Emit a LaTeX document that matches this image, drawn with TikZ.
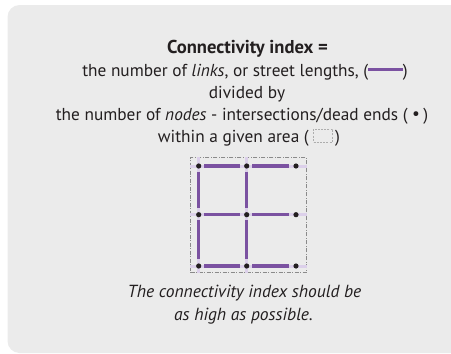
\documentclass[tikz,border=0pt]{standalone}
\usepackage{fontspec}
\setmainfont{PT Sans}
\usetikzlibrary{calc}
\definecolor{bggrey}{HTML}{EBEBEB}
\definecolor{txt}{HTML}{231F20}
\definecolor{linkpurple}{HTML}{7B52A1}
\definecolor{halo}{HTML}{DCD0EA}
\definecolor{dashgrey}{HTML}{8A8A8A}
\tikzset{
  txtline/.style={anchor=base, inner sep=0pt, text=txt, font=\fontsize{17.3}{20}\selectfont},
  dot/.style={circle, fill=txt, inner sep=0pt, minimum size=5.2pt},
  link/.style={draw=linkpurple, line width=3.4pt, shorten <=2.7pt, shorten >=4.1pt},
  street/.style={draw=halo, line width=3pt},
  areabox/.style={draw=dashgrey, line width=0.6pt, dash pattern=on 4pt off 1.5pt on 1pt off 1.5pt, inner sep=0pt},
  minibox/.style={draw=dashgrey!70, line width=0.5pt, dash pattern=on 2pt off 1.2pt, inner sep=0pt},
}
\begin{document}
\begin{tikzpicture}[x=1pt, y=-1pt]
\useasboundingbox (0,0) rectangle (451,354);
\fill[bggrey, rounded corners=12pt] (7.5,5) rectangle (470,353);
% text
\node[txtline, font=\fontsize{18.6}{20}\selectfont\bfseries] (t1) at (247.5,53) {Connectivity index =};
\node[txtline] (t2) at (245,76) {the number of \emph{links}, or street lengths, (\textcolor{linkpurple}{\rule[0.3em]{2em}{3pt}})};
\node[txtline] (t3) at (247,98) {divided by};
\node[txtline] (t4) at (242,120) {the number of \emph{nodes} - intersections/dead ends (\hspace{0.25em}\raisebox{0.05em}{•}\hspace{0.2em})};
\node[minibox, minimum width=19pt, minimum height=13pt] (mini) at (323,135.5) {};
\node[txtline, anchor=base east] (t5) at (309,142) {within a given area (};
\node[txtline, anchor=base west] (t5b) at (335,142) {)};
% grid area
\node[areabox, minimum width=115.6pt, minimum height=115.4pt] (area) at (248.5,215) {};
% dot positions
\foreach \c/\x in {1/198.7,2/246.7,3/296}{
  \foreach \r/\y in {1/166,2/214.7,3/266}{
    \coordinate (p\r\c) at (\x,\y);
  }
}
% streets
\foreach \r in {1,2,3}{
  \draw[street] (area.west |- p\r1) -- (area.east |- p\r1);
}
\foreach \c in {1,2}{
  \draw[street] (area.north -| p1\c) -- (area.south -| p1\c);
}
% dots
\foreach \r in {1,2,3}{
  \foreach \c in {1,2,3}{
    \node[dot] (n\r\c) at (p\r\c) {};
  }
}
% links
\foreach \r in {1,2,3}{
  \draw[link] (n\r1) -- (n\r2);
  \draw[link] (n\r2) -- (n\r3);
}
\foreach \c in {1,2}{
  \draw[link] (n1\c) -- (n2\c);
  \draw[link] (n2\c) -- (n3\c);
}
% bottom text
\node[txtline, font=\fontsize{17.5}{20}\selectfont\itshape] (b1) at (244.5,297) {The connectivity index should be};
\node[txtline, font=\fontsize{17.5}{20}\selectfont\itshape] (b2) at (243.5,320.5) {as high as possible.};
\end{tikzpicture}
\end{document}
